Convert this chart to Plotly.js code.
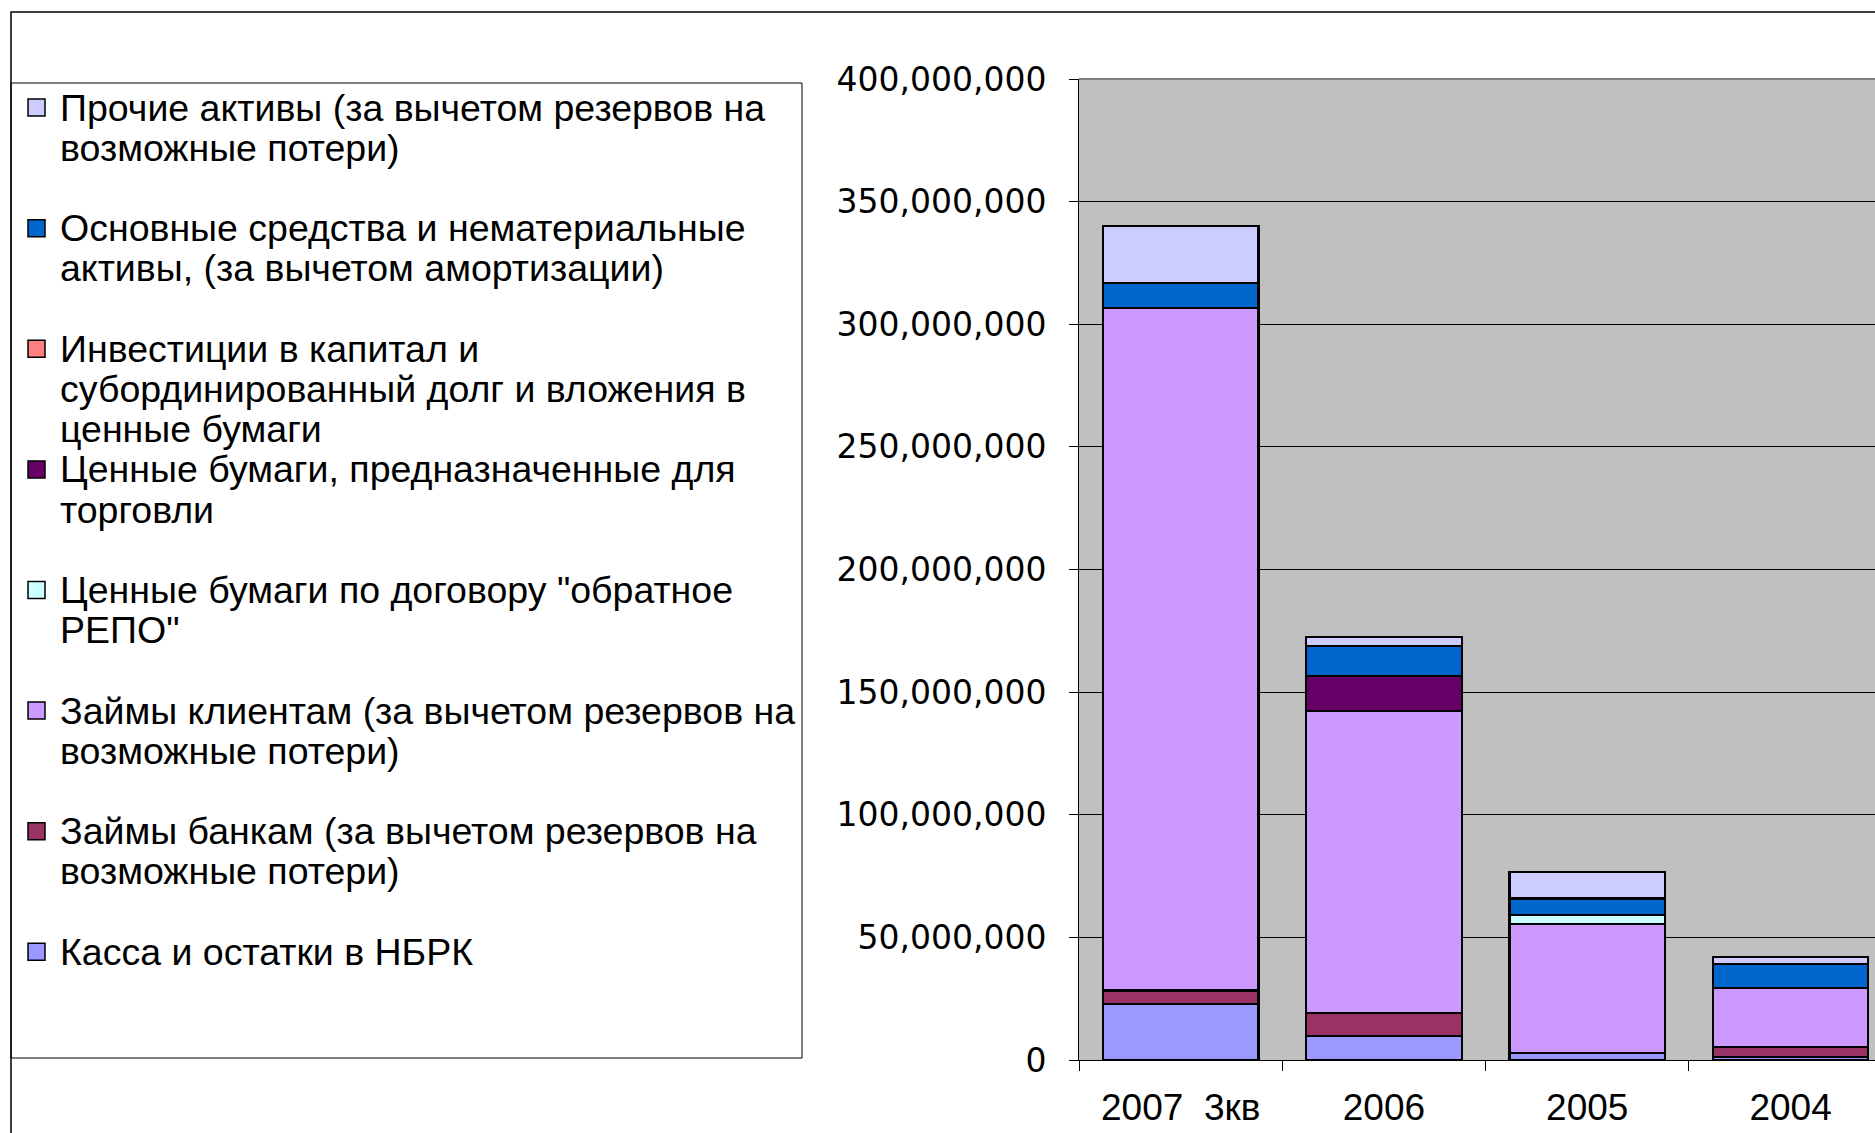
<!DOCTYPE html>
<html>
<head>
<meta charset="utf-8">
<script src="https://cdn.plot.ly/plotly-3.0.1.min.js"></script>
<style>
html,body{margin:0;padding:0;background:#fff;overflow:hidden;}
#chart{width:1875px;height:1133px;}
</style>
</head>
<body>
<div id="chart"></div>
<script>
// ---- data (values in tenge) ----
const categories = ["2007\u00A0 3кв", "2006", "2005", "2004"];

const kassa        = [22.7e6,  9.7e6,  2.85e6, 1.1e6];   // Касса и остатки в НБРК
const loansBanks   = [5.6e6,   9.6e6,  null,   4.3e6];   // Займы банкам
const loansClients = [278.4e6, 123.1e6, 52.5e6, 23.8e6]; // Займы клиентам
const repo         = [null,    null,   3.7e6,  null];    // Ценные бумаги по договору "обратное РЕПО"
const trading      = [null,    14.2e6, null,   null];    // Ценные бумаги для торговли
const investments  = [null,    null,   null,   null];    // Инвестиции в капитал ...
const fixedAssets  = [10.0e6,  12.1e6, 6.8e6,  10.0e6];  // Основные средства
const otherAssets  = [23.5e6,  3.7e6,  10.7e6, 2.85e6];  // Прочие активы

const yTickVals = [0, 50e6, 100e6, 150e6, 200e6, 250e6, 300e6, 350e6, 400e6];

// series in stacking order (bottom -> top)
const seriesNames = [
  "Касса и остатки в НБРК",
  "Займы банкам (за вычетом резервов на\nвозможные потери)",
  "Займы клиентам (за вычетом резервов на\nвозможные потери)",
  "Ценные бумаги по договору \"обратное\nРЕПО\"",
  "Ценные бумаги, предназначенные для\nторговли",
  "Инвестиции в капитал и\nсубординированный долг и вложения в\nценные бумаги",
  "Основные средства и нематериальные\nактивы, (за вычетом амортизации)",
  "Прочие активы (за вычетом резервов на\nвозможные потери)"
];
const seriesValues = [kassa, loansBanks, loansClients, repo, trading, investments, fixedAssets, otherAssets];
const seriesColors = ["#9999FF", "#993366", "#CC99FF", "#CCFFFF", "#660066", "#FF8080", "#0066CC", "#CCCCFF"];

// ---- layout geometry ----
const W = 1875, H = 1133;
const mL = 1079, mT = 79, mB = 73, mR = 0;
const plotW = W - mL - mR, plotH = H - mT - mB;
const catW = 203.3;
const px2x = p => (p - mL) / plotW;
const py2y = p => (H - mB - p) / plotH;

const traces = seriesNames.map((n, i) => ({
  type: "bar",
  name: n.replace(/\n/g, " "),
  x: categories,
  y: seriesValues[i],
  marker: {color: seriesColors[i], line: {color: "#000", width: 2.2}},
  hoverinfo: "skip",
  showlegend: false
}));

// custom legend (top -> bottom = reverse stacking order)
const annotations = [];
const shapes = [];
const firstLineY = 107.6, entryStep = 120.6, lineStep = 40.2;
const legendOrder = seriesNames.map((_, i) => i).reverse();
legendOrder.forEach((si, k) => {
  const lines = seriesNames[si].split("\n");
  const y0 = firstLineY + k * entryStep;
  lines.forEach((ln, j) => {
    annotations.push({
      xref: "paper", yref: "paper",
      x: px2x(58), y: py2y(y0 + j * lineStep),
      xanchor: "left", yanchor: "middle",
      text: ln, showarrow: false,
      font: {family: "Liberation Sans, Arial, sans-serif", size: 37.5, color: "#000"}
    });
  });
  shapes.push({
    type: "rect", xref: "paper", yref: "paper",
    x0: px2x(28), x1: px2x(45), y0: py2y(y0 - 8.5), y1: py2y(y0 + 8.5),
    fillcolor: seriesColors[si], line: {color: "#000", width: 1.5}, layer: "above"
  });
});
// legend frame
shapes.push({
  type: "rect", xref: "paper", yref: "paper",
  x0: px2x(11), x1: px2x(802), y0: py2y(83), y1: py2y(1058),
  line: {color: "#000", width: 1}, fillcolor: "rgba(0,0,0,0)"
});
// outer chart frame (extends past the right and bottom edge)
shapes.push({
  type: "rect", xref: "paper", yref: "paper",
  x0: px2x(11), x1: px2x(1890), y0: py2y(12), y1: py2y(1150),
  line: {color: "#000", width: 1.5}, fillcolor: "rgba(0,0,0,0)"
});
// plot area top border (gray)
shapes.push({
  type: "line", xref: "paper", yref: "paper",
  x0: 0, x1: 1.05, y0: 1, y1: 1,
  line: {color: "#808080", width: 2}
});

const layout = {
  width: W, height: H,
  margin: {l: mL, r: mR, t: mT, b: mB, pad: 0},
  paper_bgcolor: "#fff",
  plot_bgcolor: "#C0C0C0",
  barmode: "stack",
  bargap: 0.235,
  showlegend: false,
  xaxis: {
    type: "category",
    range: [-0.5, -0.5 + plotW / catW],
    tickson: "boundaries",
    ticks: "outside", ticklen: 10, tickcolor: "#000", tickwidth: 1,
    showline: true, linecolor: "#000", linewidth: 1,
    showgrid: false, zeroline: false,
    tickfont: {family: "Liberation Sans, Arial, sans-serif", size: 37, color: "#000"},
    ticklabelstandoff: 15,
    fixedrange: true
  },
  yaxis: {
    range: [0, 400e6],
    tickvals: yTickVals,
    tickformat: ",d",
    ticks: "outside", ticklen: 9, tickcolor: "#000", tickwidth: 1,
    showline: true, linecolor: "#000", linewidth: 1,
    showgrid: true, gridcolor: "#000", gridwidth: 1,
    zeroline: false,
    tickfont: {family: "DejaVu Sans, Verdana, sans-serif", size: 33, color: "#000"},
    ticklabelstandoff: 16,
    fixedrange: true
  },
  annotations: annotations,
  shapes: shapes
};

Plotly.newPlot("chart", traces, layout, {displayModeBar: false, staticPlot: true});
</script>
</body>
</html>
